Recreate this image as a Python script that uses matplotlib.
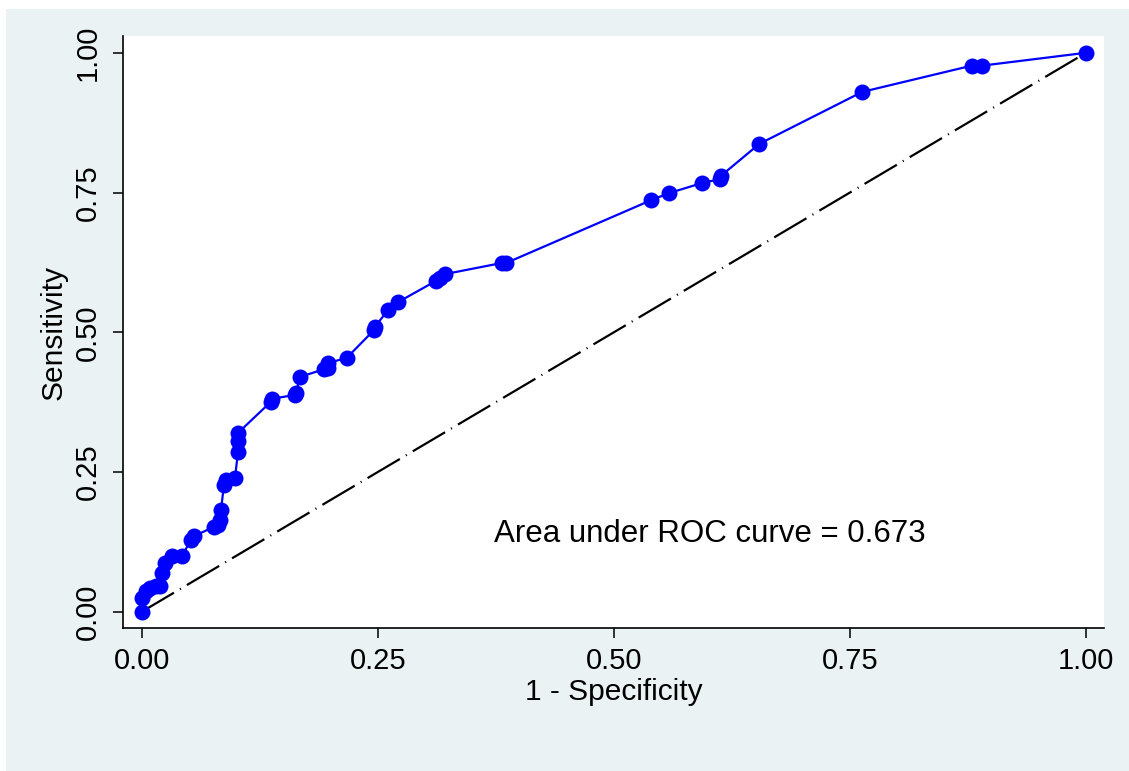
import matplotlib
matplotlib.use("Agg")
import matplotlib.pyplot as plt
from matplotlib.patches import Rectangle

# ROC points
fpr = [0.0, 0.0, 0.0046, 0.0088, 0.015, 0.019, 0.022, 0.0247, 0.032, 0.0427,
       0.052, 0.055, 0.0766, 0.081, 0.083, 0.084, 0.087, 0.089, 0.0988, 0.102,
       0.102, 0.102, 0.137, 0.138, 0.1624, 0.1634, 0.1676, 0.193, 0.197, 0.197,
       0.217, 0.246, 0.247, 0.261, 0.2715, 0.3117, 0.316, 0.321, 0.3815, 0.386,
       0.539, 0.5585, 0.5934, 0.6124, 0.6135, 0.654, 0.763, 0.879, 0.89, 1.0]
tpr = [0.0, 0.0245, 0.037, 0.042, 0.046, 0.046, 0.069, 0.087, 0.1, 0.1,
       0.128, 0.135, 0.152, 0.155, 0.164, 0.182, 0.226, 0.235, 0.24, 0.286,
       0.305, 0.32, 0.376, 0.381, 0.388, 0.392, 0.42, 0.434, 0.436, 0.445,
       0.454, 0.504, 0.51, 0.54, 0.554, 0.592, 0.597, 0.604, 0.624, 0.624,
       0.736, 0.749, 0.767, 0.774, 0.78, 0.837, 0.93, 0.977, 0.977, 1.0]
ref_line = [0.0, 1.0]
tick_vals = [0.0, 0.25, 0.5, 0.75, 1.0]
tick_labels = ["0.00", "0.25", "0.50", "0.75", "1.00"]
auc_text = "Area under ROC curve = 0.673"

plt.rcParams['font.family'] = ['Liberation Sans', 'DejaVu Sans']
plt.rcParams['lines.scale_dashes'] = False

W, H = 1129, 771
fig = plt.figure(figsize=(W / 100, H / 100), dpi=100, facecolor='white')
bg = Rectangle((6 / W, 0), 1 - 6 / W, (H - 9) / H, transform=fig.transFigure,
               facecolor='#EAF2F3', edgecolor='none', zorder=-10)
fig.patches.append(bg)

ax = fig.add_axes([123 / W, (H - 628) / H, (1104 - 123) / W, (628 - 36) / H])
ax.set_facecolor('white')

ax.plot(ref_line, ref_line, color='black', lw=1.6,
        dashes=(27, 5, 0.8, 5), zorder=2)
ax.plot(fpr, tpr, color='#0000FF', lw=1.6, marker='o', markersize=11.5,
        markeredgewidth=0, zorder=3)

ax.set_xlim(-0.0198, 1.019)
ax.set_ylim(-0.029, 1.030)
ax.set_xticks(tick_vals)
ax.set_xticklabels(tick_labels)
ax.set_yticks(tick_vals)
ax.set_yticklabels(tick_labels, rotation=90, va='center')

for s in ['top', 'right']:
    ax.spines[s].set_visible(False)
for s in ['left', 'bottom']:
    ax.spines[s].set_linewidth(1.2)
    ax.spines[s].set_color('black')

ax.tick_params(axis='both', length=7, width=1.1, color='black',
               labelsize=21, labelcolor='black', direction='out')
ax.tick_params(axis='x', pad=7)
ax.tick_params(axis='y', pad=8)

ax.set_xlabel("1 - Specificity", fontsize=21.5, labelpad=2)
ax.set_ylabel("Sensitivity", fontsize=21.5, labelpad=5)

ax.text(0.373, 0.125, auc_text, fontsize=22.5, ha='left', va='baseline',
        color='black')

fig.savefig("out.png", dpi=100, facecolor='white')
